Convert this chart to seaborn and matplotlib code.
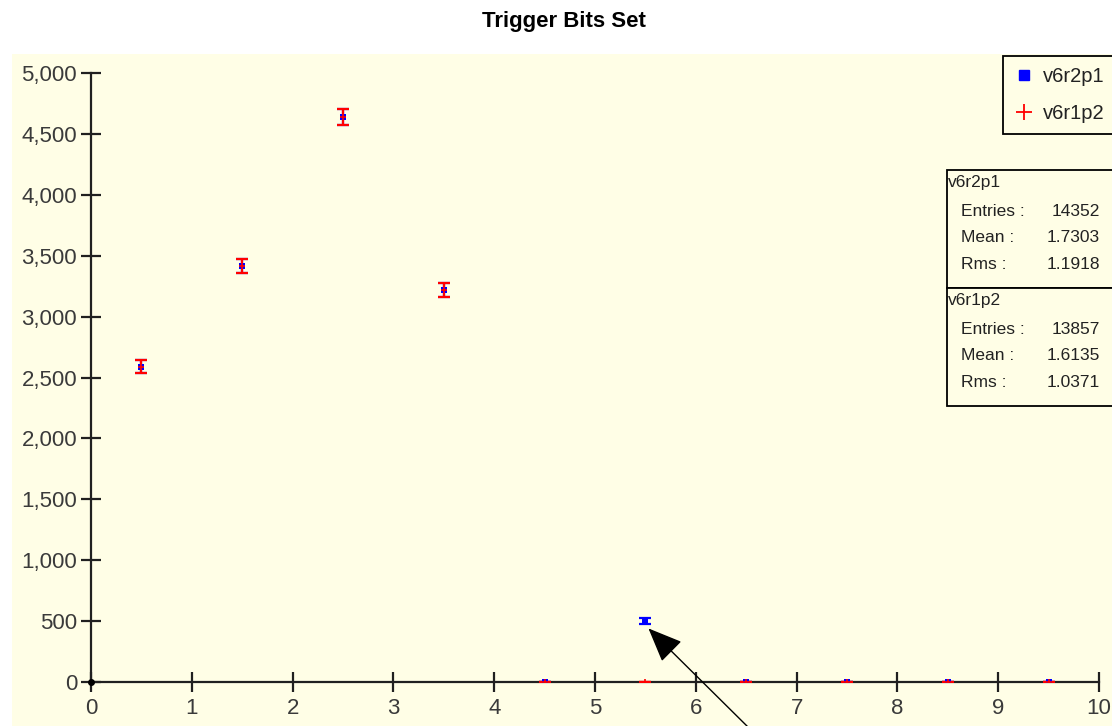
import matplotlib
matplotlib.use("Agg")
import matplotlib.pyplot as plt
from matplotlib.patches import Rectangle
from matplotlib.lines import Line2D
import numpy as np
import pandas as pd
import seaborn as sns

# ---------------- data ----------------
bins = [0.5, 1.5, 2.5, 3.5, 4.5, 5.5, 6.5, 7.5, 8.5, 9.5]
v6r2p1 = [2590, 3415, 4640, 3220, 0, 500, 0, 0, 0, 0]
v6r1p2 = [2590, 3415, 4640, 3220, 0, 0, 0, 0, 0, 0]
series_names = ["v6r2p1", "v6r1p2"]
stats_v6r2p1 = [("Entries :", "14352"), ("Mean :", "1.7303"), ("Rms :", "1.1918")]
stats_v6r1p2 = [("Entries :", "13857"), ("Mean :", "1.6135"), ("Rms :", "1.0371")]
xticks = list(range(0, 11))
yticks = list(range(0, 5001, 500))
title = "Trigger Bits Set"

df = pd.DataFrame({
    "x": bins * 2,
    "y": v6r2p1 + v6r1p2,
    "series": [series_names[0]] * len(bins) + [series_names[1]] * len(bins),
})
df["err"] = np.sqrt(df["y"])

# ---------------- style ----------------
sns.set_theme(style="ticks")
plt.rcParams["font.family"] = ["Liberation Sans", "DejaVu Sans"]

BG = "#fffee6"
W, H = 1112, 726
fig = plt.figure(figsize=(W / 100, H / 100), dpi=100)
fig.patch.set_facecolor("white")
fig.patches.append(Rectangle((12 / W, 0), 1, 1 - 54 / H, transform=fig.transFigure,
                             facecolor=BG, edgecolor="none", zorder=-10))

ax = fig.add_axes([91 / W, 1 - 682 / H, 1008 / W, 609 / H])
ax.set_facecolor("none")

colors = {"v6r2p1": "#0000ff", "v6r1p2": "#ff0000"}

# error bars
for name, z in [("v6r2p1", 2), ("v6r1p2", 3)]:
    d = df[df["series"] == name]
    ax.errorbar(d["x"], d["y"], yerr=d["err"], fmt="none", ecolor=colors[name],
                elinewidth=1.6, capsize=4.5, capthick=1.6, zorder=z)

# markers
sns.scatterplot(data=df[df["series"] == "v6r2p1"], x="x", y="y", ax=ax, marker="s",
                color=colors["v6r2p1"], s=14, linewidth=0, zorder=4, legend=False)
sns.scatterplot(data=df[df["series"] == "v6r1p2"], x="x", y="y", ax=ax, marker="+",
                color=colors["v6r1p2"], s=16, linewidth=1.2, zorder=5, legend=False)

ax.plot([0], [0], "o", color="black", ms=4, clip_on=False, zorder=6)

ax.set_xlim(0, 10)
ax.set_ylim(0, 5000)
ax.set_xticks(xticks)
ax.set_yticks(yticks)
ax.set_yticklabels([f"{v:,}" for v in yticks])
ax.set_xlabel("")
ax.set_ylabel("")
for s in ["top", "right"]:
    ax.spines[s].set_visible(False)
for s in ["left", "bottom"]:
    ax.spines[s].set_color("#202020")
    ax.spines[s].set_linewidth(1.6)
ax.tick_params(axis="both", direction="inout", length=14, width=1.6, color="#202020",
               labelsize=16, labelcolor="#3a3a3a", pad=3)
ax.tick_params(axis="x", pad=4.5)

# title
fig.text(564 / W, 1 - 21 / H, title, ha="center", va="center",
         fontsize=16, fontweight="bold", color="black")

# arrow annotation
ax.annotate("", xy=(5.53, 440), xytext=(6.75, -560),
            arrowprops=dict(arrowstyle="-|>,head_length=1.8,head_width=0.75",
                            color="black", lw=1.0, shrinkA=0, shrinkB=0),
            annotation_clip=False, zorder=7)

# legend
handles = [
    Line2D([], [], marker="s", color=colors["v6r2p1"], linestyle="none", markersize=7),
    Line2D([], [], marker="+", color=colors["v6r1p2"], linestyle="none", markersize=11,
           markeredgewidth=1.3),
]
leg = fig.legend(handles, series_names, loc="upper left",
                 bbox_to_anchor=(1003 / W, 1 - 56 / H), fontsize=14.5,
                 frameon=True, fancybox=False, edgecolor="black", facecolor=BG,
                 framealpha=1, handlelength=1.0, handletextpad=0.45,
                 labelspacing=0.9, borderpad=0.55, borderaxespad=0)
leg.get_frame().set_linewidth(1.3)
for t in leg.get_texts():
    t.set_color("#222222")

# stats boxes
def stats_box(top, name, rows):
    fig.patches.append(Rectangle((947 / W, 1 - (top + 118) / H), 200 / W, 118 / H,
                                 transform=fig.transFigure, facecolor=BG,
                                 edgecolor="black", linewidth=1.3, zorder=5))
    fig.text(948 / W, 1 - (top + 13) / H, name, ha="left", va="center",
             fontsize=12.5, color="#222222", zorder=6)
    for i, (lab, val) in enumerate(rows):
        y = 1 - (top + 41 + 26.7 * i) / H
        fig.text(961 / W, y, lab, ha="left", va="center", fontsize=12.5,
                 color="#222222", zorder=6)
        fig.text(1100 / W, y, val, ha="right", va="center", fontsize=12.5,
                 color="#222222", zorder=6)

stats_box(170, series_names[0], stats_v6r2p1)
stats_box(288, series_names[1], stats_v6r1p2)

fig.savefig("out.png", dpi=100, facecolor=fig.get_facecolor())
